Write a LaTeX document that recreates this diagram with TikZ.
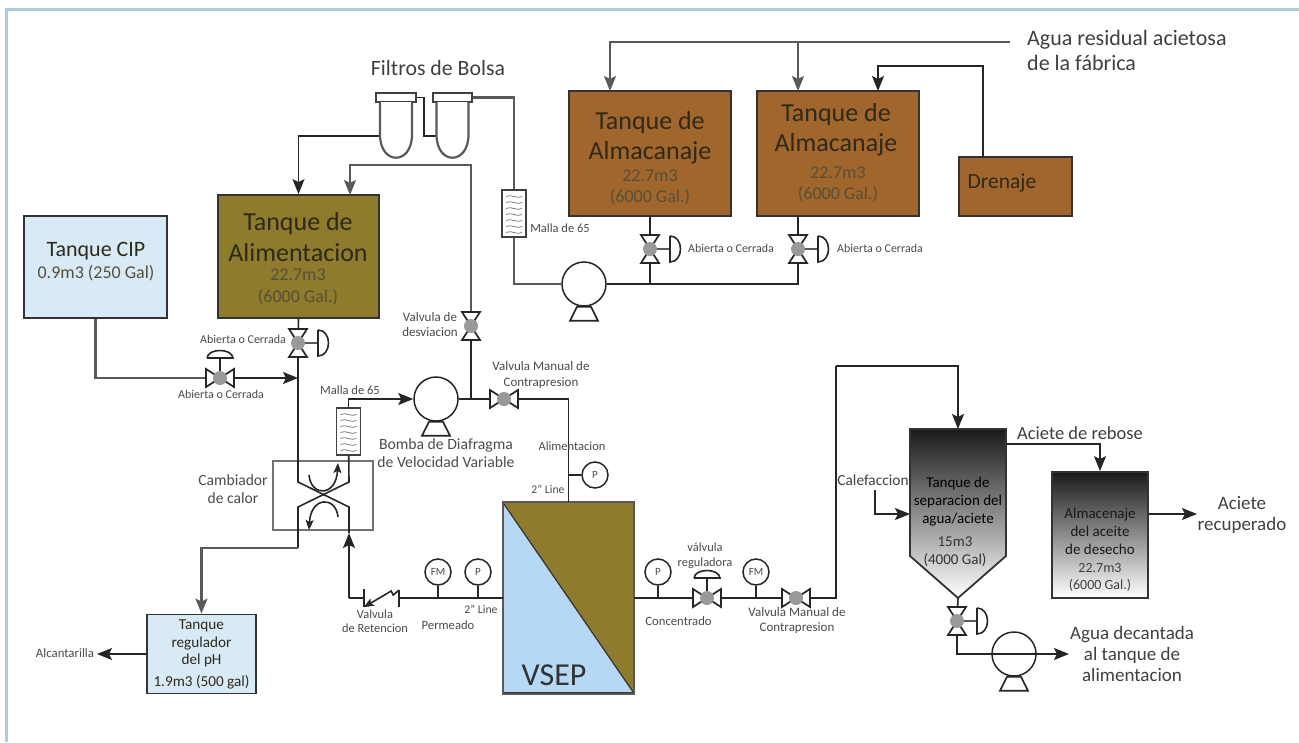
\documentclass[tikz,border=0pt]{standalone}
\usepackage{fontspec}
\setmainfont{Carlito}
\usetikzlibrary{arrows.meta}
\definecolor{olivetank}{HTML}{8E7B2B}
\definecolor{browntank}{HTML}{A0662B}
\definecolor{paleblue}{HTML}{D9EAF7}
\definecolor{skyblue}{HTML}{B5D8F5}
\definecolor{framecol}{HTML}{A9CDDD}
\definecolor{darktxt}{HTML}{2E2A18}
\definecolor{subtxt}{HTML}{55503A}
\definecolor{smalltxt}{HTML}{4A4A4A}
\tikzset{
    tip/.style={-{Stealth[length=15pt,width=12pt,inset=3pt]}},
    smalltip/.style={-{Stealth[length=10pt,width=8pt,inset=2pt]}},
    pipe/.style={draw=black!85,line width=1.6pt},
    pipeg/.style={draw=black!65,line width=2.2pt},
    tank/.style={draw=black!80,line width=1.8pt,inner sep=0,fill=#1},
    lbl/.style n args={3}{inner sep=0,align=center,text=#3,font=\fontsize{#1}{#2}\selectfont},
    gauge/.style={circle,draw=black!85,line width=1.5pt,fill=white,minimum size=26pt,inner sep=0,
        text=smalltxt,font=\fontsize{11}{11}\selectfont},
    pump/.style={circle,draw=black!85,line width=1.5pt,minimum size=44pt,inner sep=0},
    vport/.style={minimum width=18pt,minimum height=28pt,inner sep=0},
    hport/.style={minimum width=28pt,minimum height=18pt,inner sep=0},
    mesh/.style={draw=black!75,line width=1.5pt,fill=white,minimum width=24pt,minimum height=47pt,inner sep=0},
    bagcap/.style={draw=black!75,line width=1.5pt,fill=white,minimum height=9pt,inner sep=0},
    bowv/.pic={
        \draw[draw=black!85,line width=1.7pt,fill=white] (-9,-14) -- (9,-14) -- (-9,14) -- (9,14) -- cycle;
        \fill[black!40] (0,0) circle (7);
    },
    bowh/.pic={
        \draw[draw=black!85,line width=1.7pt,fill=white] (-14,-9) -- (-14,9) -- (14,-9) -- (14,9) -- cycle;
        \fill[black!40] (0,0) circle (7);
    },
    actside/.pic={
        \draw[pipeg] (0,0) -- (20,0);
        \draw[pipe,fill=white] (20,-13) -- (20,13) .. controls (34,13) and (34,-13) .. (20,-13);
    },
    acttop/.pic={
        \draw[pipe] (0,0) -- (0,-20);
        \draw[pipe,fill=white] (-13,-20) -- (13,-20) .. controls (12,-30) and (-12,-30) .. (-13,-20);
    },
    pumpbase/.pic={
        \draw[pipe,fill=white] (-7,0) -- (7,0) -- (14,14) -- (-14,14) -- cycle;
    },
    bagbody/.pic={
        \draw[pipeg,fill=white] (-16,4.5) -- (-16,37) .. controls (-16,68) and (16,68) .. (16,37) -- (16,4.5);
    },
    coil/.pic={
        \foreach \k in {-17,-11,...,19} {
            \draw[black!50,line width=0.8pt] (-8,\k) .. controls (-3,\k-3) and (3,\k+3) .. (8,\k);
        }
    },
}
\begin{document}
\begin{tikzpicture}[x=1pt,y=-1pt]
    \useasboundingbox (0,0) rectangle (1299,742);
    \draw[framecol,line width=3pt] (6,742) -- (6,9) -- (1299,9);

    % tanks
    \node[tank=paleblue,minimum width=143pt,minimum height=102pt] (tankcip) at (95.5,267) {};
    \node[tank=olivetank,minimum width=161pt,minimum height=123pt] (tankfeed) at (298.5,256.5) {};
    \node[tank=browntank,minimum width=162pt,minimum height=125pt] (tanka) at (650,153.5) {};
    \node[tank=browntank,minimum width=162pt,minimum height=125pt] (tankb) at (838,153.5) {};
    \node[tank=browntank,minimum width=113pt,minimum height=59pt] (drain) at (1015.5,186.5) {};
    \node[tank=paleblue,minimum width=109pt,minimum height=79pt] (tankph) at (201.5,654) {};
    \node[tank=skyblue,minimum width=130pt,minimum height=190pt] (vsep) at (568.5,598) {};
    \fill[olivetank] (vsep.north west) -- (vsep.north east) -- (vsep.south east) -- cycle;
    \draw[black!80,line width=1.2pt] (vsep.north west) -- (vsep.south east);
    \draw[black!65,line width=2pt] (vsep.north west) rectangle (vsep.south east);
    \draw[black!80,line width=1.8pt,top color=black!90,bottom color=white,middle color=black!45]
        (910,429) coordinate (sepnw) -- (1006,429) -- (1006,556) -- (958,598) coordinate (sepapex) -- (910,556) -- cycle;
    \node[draw=black!80,line width=1.8pt,inner sep=0,minimum width=96pt,minimum height=126pt,
        top color=black!90,bottom color=white,middle color=black!45] (store) at (1100,535) {};

    % rotating and inline equipment
    \node[pump] (pumpa) at (584,284) {};
    \node[pump] (pumpb) at (436,399) {};
    \node[pump] (pumpc) at (1014,654) {};
    \node[vport] (va) at (650,249) {};
    \node[vport] (vb) at (798,249) {};
    \node[vport] (vfeed) at (298,343) {};
    \node[vport] (vdev) at (471,326) {};
    \node[vport] (vout) at (957,621) {};
    \node[hport] (vcip) at (220,378) {};
    \node[hport] (vman) at (504,399) {};
    \node[hport] (vreg) at (707,598) {};
    \node[hport] (vmanb) at (796,598) {};
    \node[minimum width=35pt,minimum height=18pt,inner sep=0] (chk) at (381.5,598) {};
    \node[mesh] (mesha) at (514,213.5) {};
    \node[mesh] (meshb) at (348.5,431.5) {};
    \node[bagcap,minimum width=40pt] (capa) at (396,97.5) {};
    \node[bagcap,minimum width=39pt] (capb) at (452.5,97.5) {};
    \node[draw=black!55,line width=2.5pt,minimum width=100pt,minimum height=69pt,inner sep=0] (exch) at (323,495.5) {};
    \node[gauge] (pfeed) at (595,475) {P};
    \node[gauge] (fmperm) at (438,572) {FM};
    \node[gauge] (pperm) at (478,572) {P};
    \node[gauge] (pconc) at (658,572) {P};
    \node[gauge] (fmconc) at (756,572) {FM};

    % free ends and bends
    \coordinate (wastein) at (1010,42);
    \coordinate (ina) at (610,91);
    \coordinate (inb) at (798,91);
    \coordinate (drainout) at (983,157);
    \coordinate (drainbend) at (983,66);
    \coordinate (indrain) at (878,91);
    \coordinate (baga) at (381,136);
    \coordinate (bagb) at (437,136);
    \coordinate (devtop) at (471,165);
    \coordinate (indev) at (350,195);
    \coordinate (jdev) at (471,399);
    \coordinate (jcip) at (298,378);
    \coordinate (xa) at (298,482);
    \coordinate (xb) at (349,482);
    \coordinate (xc) at (298,507);
    \coordinate (xd) at (349,507);
    \coordinate (xm) at (323.5,494.5);
    \coordinate (xret) at (349,533);
    \coordinate (jret) at (349,598);
    \coordinate (phbend) at (298,548);
    \coordinate (permout) at (503,598);
    \coordinate (concout) at (634,598);
    \coordinate (sepbend) at (836,366);
    \coordinate (septop) at (958,429);
    \coordinate (heatin) at (875,490);
    \coordinate (heatto) at (910,514);
    \coordinate (oilout) at (1006,444);
    \coordinate (storeout) at (1197,514);
    \coordinate (waterout) at (1069,654);
    \coordinate (sewer) at (97,654);

    % pipes
    \draw[pipeg,tip] (wastein) -| (ina);
    \draw[pipeg,tip] (wastein -| inb) -- (inb);
    \draw[pipe,tip] (drainout) -- (drainbend) -| (indrain);
    \draw[pipe] (tanka.south) -- (va);
    \draw[pipe] (tankb.south -| vb) -- (vb);
    \draw[pipe] (va) -- (va |- pumpa.east);
    \draw[pipe] (vb) |- (pumpa.east);
    \draw[pipeg] (capb.east) -| (mesha);
    \draw[pipeg] (mesha) |- (pumpa.west);
    \draw[pipe] (capa.east) -- ++(7,0) |- (bagb);
    \draw[pipe,tip] (baga) -| (tankfeed.north);
    \draw[pipeg,tip] (vdev) -- (devtop) -| (indev);
    \draw[pipe] (jdev) -- (vdev);
    \draw[pipe] (tankfeed.south) -- (vfeed);
    \draw[pipeg] (tankcip.south) |- (vcip);
    \draw[pipe,tip] (vcip) -- (jcip);
    \draw[pipe] (vfeed) -- (xa) -- (xm) -- (xd) -- (xret);
    \draw[pipe] (meshb) -- (xb) -- (xm) -- (xc) -- (phbend);
    \draw[pipe,tip] (meshb.north) |- (pumpb.west);
    \draw[pipe] (pumpb.east) -- (vman);
    \draw[pipe] (vman) -| (vsep.north);
    \draw[pipe] (pfeed) -- (pfeed -| vsep.north);
    \draw[pipeg,tip] (phbend) -| (tankph.north);
    \draw[pipe,tip] (jret) -- (xret);
    \draw[pipe] (chk) -- (jret);
    \draw[pipe] (chk) -- (permout);
    \draw[pipe] (fmperm) -- (fmperm |- permout);
    \draw[pipe] (pperm) -- (pperm |- permout);
    \draw[pipe,tip] (tankph.west) -- (sewer);
    \draw[pipe] (concout) -- (vreg);
    \draw[pipe] (vreg) -- (vmanb);
    \draw[pipe] (pconc) -- (pconc |- concout);
    \draw[pipe] (fmconc) -- (fmconc |- concout);
    \draw[pipe] (vmanb) -| (sepbend);
    \draw[pipe,tip] (sepbend) -| (septop);
    \draw[pipe,tip] (heatin) |- (heatto);
    \draw[pipe,tip] (oilout) -| (store.north);
    \draw[pipe,tip] (store.east |- storeout) -- (storeout);
    \draw[pipe] (sepapex) -- (vout);
    \draw[pipe,tip] (vout) |- (waterout);

    % inside the exchanger
    \draw[pipe,smalltip] (309,475) .. controls (311,497) and (336,497) .. (338,463);
    \draw[pipe,smalltip] (338,517) .. controls (336,496) and (311,496) .. (309,530);

    % check valve
    \draw[pipe] ([yshift=9pt]chk.west) -- ([yshift=-9pt]chk.west);
    \draw[pipe] ([yshift=8pt]chk.east) -- ([yshift=-9pt]chk.east);
    \draw[pipe,smalltip] ([yshift=8pt]chk.east) -- ++(-6,5) -- ++(-2,-4) -- (chk.south west);

    % valve bodies and fittings
    \foreach \v in {va,vb,vfeed,vout} {
        \pic at (\v) {actside};
    }
    \foreach \v in {vcip,vreg} {
        \pic at (\v) {acttop};
    }
    \foreach \v in {va,vb,vfeed,vdev,vout} {
        \pic at (\v) {bowv};
    }
    \foreach \v in {vcip,vman,vreg,vmanb} {
        \pic at (\v) {bowh};
    }
    \foreach \p in {pumpa,pumpb,pumpc} {
        \pic at (\p.south) {pumpbase};
    }
    \foreach \m in {mesha,meshb} {
        \pic at (\m) {coil};
    }
    \foreach \c in {capa,capb} {
        \pic at (\c) {bagbody};
    }

    % labels
    \node[lbl={22}{24}{darktxt}] (namecip) at (96,251) {Tanque CIP};
    \node[lbl={18}{18}{subtxt}] (volcip) at (96,273) {0.9m3 (250 Gal)};
    \node[lbl={26}{31}{darktxt}] (namefeed) at (298,237) {Tanque de\\Alimentacion};
    \node[lbl={18}{22}{subtxt}] (volfeed) at (298,287) {22.7m3\\(6000 Gal.)};
    \node[lbl={26}{30}{darktxt}] (namea) at (650,138) {Tanque de\\Almacanaje};
    \node[lbl={18}{21}{subtxt}] (vola) at (650,187.5) {22.7m3\\(6000 Gal.)};
    \node[lbl={26}{30}{darktxt}] (nameb) at (836,130) {Tanque de\\Almacanaje};
    \node[lbl={18}{21}{subtxt}] (volb) at (838,184.5) {22.7m3\\(6000 Gal.)};
    \node[lbl={21.5}{24}{darktxt}] (namedrain) at (1002,183) {Drenaje};
    \node[lbl={22}{25}{black!75}] (namewaste) at (1027,50.5) [anchor=west,align=left] {Agua residual acietosa\\de la fábrica};
    \node[lbl={21.8}{22}{black!75}] (namebag) at (438,68) {Filtros de Bolsa};
    \node[lbl={12}{12}{smalltxt}] (txta) at (731,248) {Abierta o Cerrada};
    \node[lbl={12}{12}{smalltxt}] (txtb) at (880,248) {Abierta o Cerrada};
    \node[lbl={12.5}{12.5}{smalltxt}] (txtm) at (560,228) {Malla de 65};
    \node[lbl={12.5}{12.5}{smalltxt}] (txtn) at (350,390) {Malla de 65};
    \node[lbl={12}{12}{smalltxt}] (txtfeed) at (243,339) {Abierta o Cerrada};
    \node[lbl={12}{12}{smalltxt}] (txtcip) at (221,394) {Abierta o Cerrada};
    \node[lbl={13}{15}{smalltxt}] (txtdev) at (430,324.5) {Valvula de\\desviacion};
    \node[lbl={13}{16}{smalltxt}] (txtman) at (541,375) {Valvula Manual de\\Contrapresion};
    \node[lbl={12.5}{12.5}{smalltxt}] (txtali) at (572,446) {Alimentacion};
    \node[lbl={11.7}{12}{smalltxt}] (txtla) at (548,489) {2" Line};
    \node[lbl={15.7}{18}{black!70}] (txtpump) at (446,453) {Bomba de Diafragma\\de Velocidad Variable};
    \node[lbl={15.6}{18}{black!70}] (txtex) at (233,489.5) {Cambiador\\de calor};
    \node[lbl={12.4}{14}{smalltxt}] (txtchk) at (375,621) {Valvula\\de Retencion};
    \node[lbl={11.7}{12}{smalltxt}] (txtlb) at (481,609) {2" Line};
    \node[lbl={12.6}{12.6}{smalltxt}] (txtperm) at (448,625) {Permeado};
    \node[lbl={15.2}{17.5}{darktxt}] (nameph) at (201.5,643.5) {Tanque\\regulador\\del pH};
    \node[lbl={15.2}{15.2}{darktxt}] (volph) at (201.5,682) {1.9m3 (500 gal)};
    \node[lbl={12.8}{12.8}{smalltxt}] (txtsewer) at (65,653) {Alcantarilla};
    \node[lbl={32}{32}{black!80}] (namevsep) at (554,675) {VSEP};
    \node[lbl={12.4}{15}{smalltxt}] (txtreg) at (705,555.5) {válvula\\reguladora};
    \node[lbl={12.7}{12.7}{smalltxt}] (txtconc) at (678.5,621) {Concentrado};
    \node[lbl={13}{15}{smalltxt}] (txtmanb) at (797,620.5) {Valvula Manual de\\Contrapresion};
    \node[lbl={15.4}{15.4}{black!75}] (txtheat) at (873,480) {Calefaccion};
    \node[lbl={15}{18}{black}] (namesep) at (958,502) {Tanque de\\separacion del\\agua/aciete};
    \node[lbl={15}{18}{black!80}] (volsep) at (955,552) {15m3\\(4000 Gal)};
    \node[lbl={18.5}{20}{black!75}] (txtoil) at (1080,433) {Aciete de rebose};
    \node[lbl={15}{18}{black!90}] (namestore) at (1100,531) {Almacenaje\\del aceite\\de desecho};
    \node[lbl={14}{17}{black!75}] (volstore) at (1100,577.5) {22.7m3\\(6000 Gal.)};
    \node[lbl={19}{21}{black!75}] (txtrec) at (1242,514.5) {Aciete\\recuperado};
    \node[lbl={19}{21}{black!75}] (txtwater) at (1132,654) {Agua decantada\\al tanque de\\alimentacion};
\end{tikzpicture}
\end{document}
